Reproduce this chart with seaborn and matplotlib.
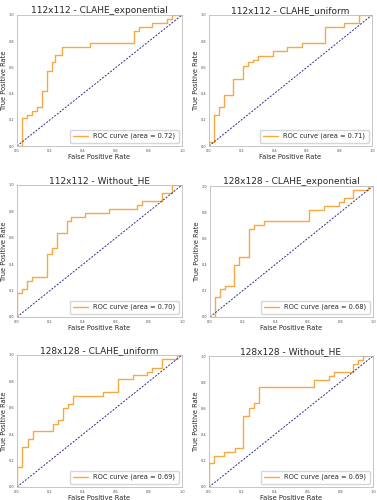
import matplotlib
matplotlib.use("Agg")
import matplotlib.pyplot as plt
import seaborn as sns
import pandas as pd

titles = ["112x112 - CLAHE_exponential", "112x112 - CLAHE_uniform",
          "112x112 - Without_HE", "128x128 - CLAHE_exponential",
          "128x128 - CLAHE_uniform", "128x128 - Without_HE"]
aucs = [0.72, 0.71, 0.70, 0.68, 0.69, 0.69]

fpr1 = [0, 0.03, 0.06, 0.09, 0.12, 0.15, 0.18, 0.21, 0.23, 0.27, 0.44, 0.71, 0.74, 0.82, 0.91, 0.94, 1.0]
tpr1 = [0, 0.21, 0.24, 0.27, 0.30, 0.42, 0.575, 0.64, 0.695, 0.756, 0.79, 0.88, 0.91, 0.94, 0.97, 1.0, 1.0]

fpr2 = [0, 0, 0.033, 0.063, 0.09, 0.15, 0.21, 0.24, 0.27, 0.30, 0.39, 0.48, 0.57, 0.71, 0.83, 0.92, 1.0]
tpr2 = [0, 0.03, 0.24, 0.30, 0.39, 0.51, 0.61, 0.64, 0.66, 0.69, 0.725, 0.756, 0.79, 0.91, 0.94, 1.0, 1.0]

fpr3 = [0, 0, 0.03, 0.06, 0.09, 0.18, 0.21, 0.24, 0.30, 0.33, 0.41, 0.56, 0.73, 0.76, 0.88, 0.94, 1.0]
tpr3 = [0, 0.18, 0.21, 0.27, 0.30, 0.48, 0.52, 0.635, 0.73, 0.755, 0.785, 0.82, 0.85, 0.88, 0.94, 1.0, 1.0]

fpr4 = [0, 0.03, 0.06, 0.09, 0.15, 0.18, 0.24, 0.27, 0.33, 0.61, 0.70, 0.79, 0.82, 0.88, 0.97, 1.0]
tpr4 = [0, 0.15, 0.21, 0.24, 0.40, 0.46, 0.67, 0.70, 0.73, 0.82, 0.85, 0.88, 0.91, 0.97, 1.0, 1.0]

fpr5 = [0, 0, 0.03, 0.067, 0.097, 0.22, 0.25, 0.28, 0.31, 0.34, 0.52, 0.61, 0.70, 0.79, 0.82, 0.88, 0.97, 1.0]
tpr5 = [0, 0.15, 0.30, 0.36, 0.425, 0.48, 0.51, 0.60, 0.63, 0.69, 0.72, 0.815, 0.845, 0.875, 0.905, 0.97, 1.0, 1.0]

fpr6 = [0, 0, 0.03, 0.09, 0.16, 0.21, 0.245, 0.275, 0.305, 0.64, 0.73, 0.76, 0.88, 0.91, 0.94, 1.0]
tpr6 = [0, 0.18, 0.24, 0.27, 0.30, 0.54, 0.605, 0.64, 0.76, 0.82, 0.85, 0.88, 0.94, 0.97, 1.0, 1.0]

fprs = [fpr1, fpr2, fpr3, fpr4, fpr5, fpr6]
tprs = [tpr1, tpr2, tpr3, tpr4, tpr5, tpr6]

sns.set_style("white")

W, H = 377, 500
# axes boxes in pixels: left, top, right, bottom
boxes = [(17, 15, 182, 146), (209, 15, 372, 146),
         (17, 185, 182, 317), (210, 186, 373, 317),
         (17, 355, 182, 487), (209, 356, 373, 487)]

fig = plt.figure(figsize=(W / 100, H / 100), dpi=100)

for i in range(6):
    l, t, r, b = boxes[i]
    ax = fig.add_axes([l / W, 1 - b / H, (r - l) / W, (b - t) / H])
    df = pd.DataFrame({"fpr": fprs[i], "tpr": tprs[i]})
    sns.lineplot(data=df, x="fpr", y="tpr", ax=ax, sort=False, estimator=None,
                 drawstyle="steps-post", color="#f5a945", lw=1.0,
                 label="ROC curve (area = %0.2f)" % aucs[i])
    ax.plot([0, 1], [0, 1], color="#2b2b8f", lw=0.7, linestyle=(0, (2, 1.5)))
    ax.set_xlim(0, 1)
    ax.set_ylim(0, 1)
    ax.set_xticks([0, 0.2, 0.4, 0.6, 0.8, 1.0])
    ax.set_yticks([0, 0.2, 0.4, 0.6, 0.8, 1.0])
    ax.tick_params(labelsize=2.5, length=1, width=0.4, pad=1, colors="#444444")
    for s in ax.spines.values():
        s.set_color("#bbbbbb")
        s.set_linewidth(0.6)
    ax.set_title(titles[i], fontsize=6.5, pad=1.5)
    ax.set_xlabel("False Positive Rate", fontsize=4.8, labelpad=1)
    ax.set_ylabel("True Positive Rate", fontsize=4.8, labelpad=1)
    ax.legend(loc="lower right", fontsize=4.8, handlelength=2.2, borderpad=0.5,
              frameon=True, edgecolor="#cccccc", fancybox=True)

plt.savefig("out.png", dpi=100)
